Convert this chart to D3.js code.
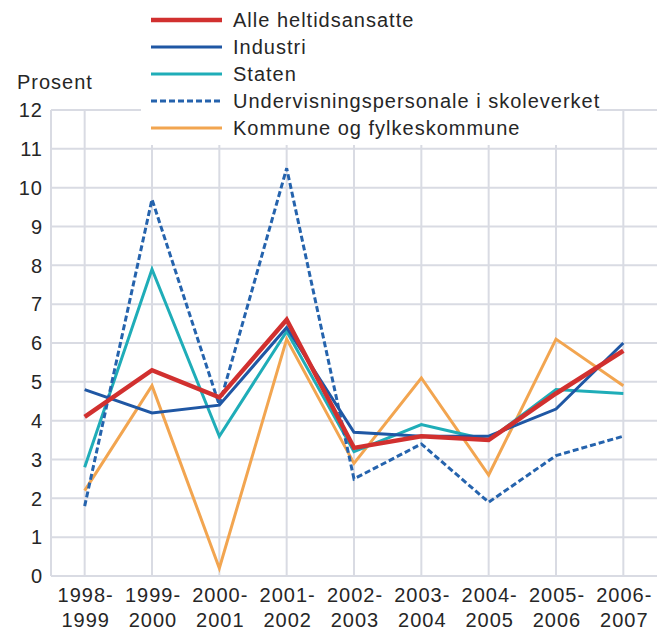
<!DOCTYPE html>
<html><head><meta charset="utf-8">
<script src="https://cdn.jsdelivr.net/npm/d3@7"></script>
<style>body{margin:0;background:#fff}svg{display:block}text{font-family:"Liberation Sans",Arial,sans-serif;fill:#262626;letter-spacing:1px}</style>
</head><body><svg id="c" width="657" height="637"></svg>
<script>
const categories = ["1998-1999","1999-2000","2000-2001","2001-2002","2002-2003","2003-2004","2004-2005","2005-2006","2006-2007"];
const alle = [4.1, 5.3, 4.6, 6.6, 3.3, 3.6, 3.5, 4.7, 5.8];
const industri = [4.8, 4.2, 4.4, 6.4, 3.7, 3.6, 3.6, 4.3, 6.0];
const staten = [2.8, 7.9, 3.6, 6.3, 3.2, 3.9, 3.5, 4.8, 4.7];
const undervisning = [1.8, 9.7, 4.4, 10.5, 2.5, 3.4, 1.9, 3.1, 3.6];
const kommune = [2.2, 4.9, 0.2, 6.1, 2.9, 5.1, 2.6, 6.1, 4.9];
const yTicks = [0,1,2,3,4,5,6,7,8,9,10,11,12];
const seriesNames = ["Alle heltidsansatte","Industri","Staten","Undervisningspersonale i skoleverket","Kommune og fylkeskommune"];

const series = [
  {name: seriesNames[4], values: kommune, color: "#f2a550", width: 3, dash: null},
  {name: seriesNames[2], values: staten, color: "#1fadb8", width: 3, dash: null},
  {name: seriesNames[3], values: undervisning, color: "#2563ad", width: 3, dash: "6,3"},
  {name: seriesNames[1], values: industri, color: "#1f57a4", width: 3, dash: null},
  {name: seriesNames[0], values: alle, color: "#d1302f", width: 4.5, dash: null}
];

const svg = d3.select("#c");
const pL = 51, pR = 657, pT = 110, pB = 576;
const x = d3.scalePoint().domain(categories).range([pL, pR]).padding(0.5);
const y = d3.scaleLinear().domain([0, 12]).range([pB, pT]);
const grid = "#d9dbe3";
const fs = "20px";

svg.append("g").selectAll("line").data(yTicks).join("line")
  .attr("x1", pL).attr("x2", pR).attr("y1", d => y(d)).attr("y2", d => y(d))
  .attr("stroke", grid).attr("stroke-width", 2);
svg.append("g").selectAll("line").data(categories).join("line")
  .attr("x1", d => x(d)).attr("x2", d => x(d)).attr("y1", pB).attr("y2", pT)
  .attr("stroke", grid).attr("stroke-width", 2);
svg.append("line").attr("x1", pL).attr("x2", pL).attr("y1", pT).attr("y2", pB)
  .attr("stroke", grid).attr("stroke-width", 2);

svg.append("g").selectAll("text").data(yTicks).join("text")
  .attr("x", 43).attr("y", d => y(d)).attr("dy", "0.36em").attr("text-anchor", "end")
  .style("font-size", fs).text(d => d);
svg.append("text").attr("x", 17).attr("y", 89).style("font-size", fs).text("Prosent");

const xl = svg.append("g").selectAll("text").data(categories).join("text")
  .attr("text-anchor", "middle").style("font-size", fs);
xl.append("tspan").attr("x", d => x(d) + 1).attr("y", 602).text(d => d.split("-")[0] + "-");
xl.append("tspan").attr("x", d => x(d) + 1).attr("y", 627).text(d => d.split("-")[1]);

const line = d3.line().x((d, i) => x(categories[i])).y(d => y(d));
svg.append("g").selectAll("path").data(series).join("path")
  .attr("d", d => line(d.values)).attr("fill", "none")
  .attr("stroke", d => d.color).attr("stroke-width", d => d.width)
  .attr("stroke-dasharray", d => d.dash).attr("stroke-linejoin", "miter");

const legendOrder = [series[4], series[3], series[1], series[2], series[0]];
svg.append("rect").attr("x", 141).attr("y", 0).attr("width", 456).attr("height", 145).attr("fill", "#fff");
const lg = svg.append("g").selectAll("g").data(legendOrder).join("g")
  .attr("transform", (d, i) => `translate(0,${20 + i * 27})`);
lg.append("line").attr("x1", 151).attr("x2", 222).attr("y1", 0).attr("y2", 0)
  .attr("stroke", d => d.color).attr("stroke-width", d => d.width)
  .attr("stroke-dasharray", d => d.dash);
lg.append("text").attr("x", 233).attr("y", 0).attr("dy", "0.36em").style("font-size", fs).text(d => d.name);
</script></body></html>
